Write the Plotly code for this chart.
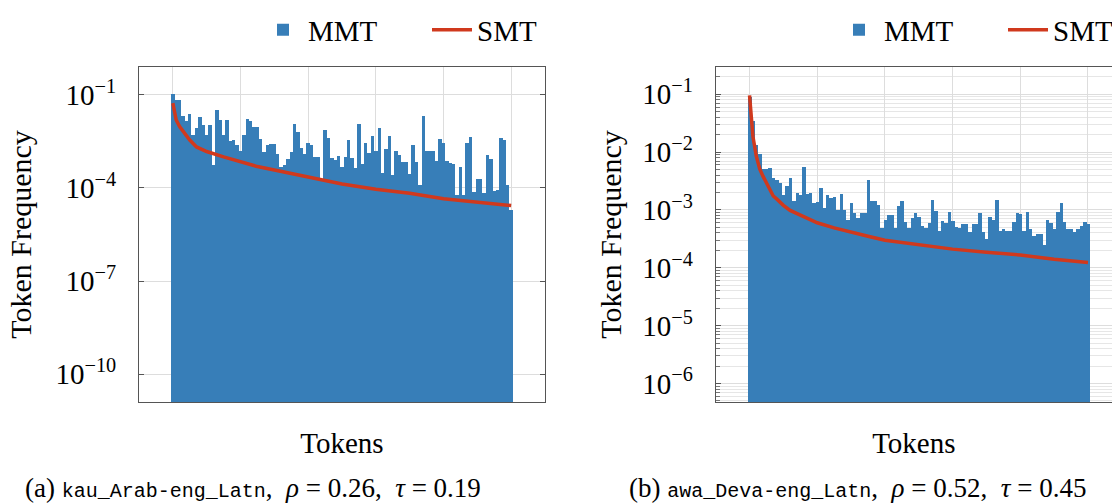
import plotly.graph_objects as go
from plotly.subplots import make_subplots

# token ranks (x) shared by both panels
tokens = list(range(101))

# (a) kau_Arab-eng_Latn
mmt_kau = [1.07e-1, 6.8e-2, 6.8e-2, 2.1e-2, 1.4e-2, 2.5e-2, 5.1e-3, 8.5e-3, 2.0e-2, 1.07e-2,
           5.1e-3, 1.07e-2, 5.5e-4, 3.2e-2, 1.55e-2, 5.1e-3, 1.6e-2, 3.2e-3, 3.5e-3, 2.5e-3,
           1.5e-3, 5.1e-3, 1.7e-2, 1.4e-2, 9.5e-3, 9.1e-3, 3.7e-3, 1.4e-3, 2.5e-3, 2.6e-3,
           2.6e-3, 1.26e-3, 4.9e-4, 5.5e-4, 8.7e-4, 1.4e-3, 1.15e-2, 6.6e-3, 1.9e-3, 1.26e-3,
           2.75e-3, 2.5e-3, 1.0e-3, 1.0e-3, 2.0e-4, 7.4e-3, 4.0e-3, 9.1e-4, 7.9e-4, 1.07e-3,
           4.9e-4, 1.0e-3, 3.5e-3, 9.5e-4, 4.3e-4, 1.15e-2, 5.9e-4, 2.75e-3, 1.3e-3, 4.6e-3,
           1.5e-3, 8.3e-3, 3.0e-4, 1.8e-3, 4.8e-3, 2.6e-4, 1.6e-3, 1.15e-3, 7.1e-4, 6.8e-4,
           2.75e-4, 2.5e-3, 7.1e-4, 1.26e-4, 2.1e-2, 1.55e-3, 1.5e-3, 1.5e-3, 7.4e-4, 3.8e-3,
           2.75e-3, 7.4e-4, 6.3e-4, 5.9e-4, 6.0e-5, 4.9e-4, 6.0e-5, 2.75e-3, 4.3e-3, 7.6e-5,
           1.95e-4, 1.95e-4, 6.8e-5, 1.15e-3, 8.7e-4, 7.9e-5, 8.7e-5, 4.0e-3, 3.5e-3, 1.26e-4,
           1.95e-5]
smt_kau_x = [0, 1, 2, 3, 5, 7, 10, 15, 20, 25, 30, 40, 50, 60, 70, 80, 88, 100]
smt_kau = [5.4e-2, 1.55e-2, 9.5e-3, 6.6e-3, 3.5e-3, 2.1e-3, 1.5e-3, 1.0e-3, 7.1e-4, 4.9e-4,
           3.8e-4, 2.3e-4, 1.35e-4, 9.1e-5, 6.8e-5, 4.5e-5, 3.6e-5, 2.7e-5]

# (b) awa_Deva-eng_Latn
mmt_awa = [8.9e-2, 3.4e-2, 1.35e-2, 9.1e-3, 5.1e-3, 5.1e-3, 5.2e-3, 3.6e-3, 3.3e-3, 2.95e-3,
           1.8e-3, 2.6e-3, 3.5e-3, 1.4e-3, 1.95e-3, 1.8e-3, 5.5e-3, 1.9e-3, 1.95e-3, 1.3e-3,
           1.35e-3, 2.4e-3, 1.07e-3, 1.8e-3, 1.6e-3, 1.7e-3, 9.8e-4, 1.9e-3, 9.8e-4, 6.8e-4,
           1.3e-3, 8.9e-4, 7.2e-4, 8.9e-4, 8.9e-4, 3.3e-3, 1.4e-3, 1.4e-3, 1.23e-3, 4.9e-4,
           6.6e-4, 8.3e-4, 8.3e-4, 4.9e-4, 1.17e-3, 1.4e-3, 6.3e-4, 4.8e-4, 7.2e-4, 8.9e-4,
           7.4e-4, 5.2e-4, 4.9e-4, 5.9e-4, 1.5e-3, 9.5e-4, 4.3e-4, 6.5e-4, 5.9e-4, 9.1e-4,
           6.5e-4, 5.0e-4, 4.9e-4, 5.8e-4, 5.8e-4, 4.2e-4, 5.8e-4, 5.8e-4, 8.9e-4, 4.2e-4,
           3.1e-4, 7.4e-4, 6.8e-4, 1.5e-3, 4.3e-4, 4.6e-4, 4.3e-4, 4.3e-4, 6.3e-4, 8.9e-4,
           8.5e-4, 4.3e-4, 9.1e-4, 4.6e-4, 3.5e-4, 3.9e-4, 3.9e-4, 2.5e-4, 6.8e-4, 5.9e-4,
           4.6e-4, 9.1e-4, 1.3e-3, 6.3e-4, 4.7e-4, 4.7e-4, 4.2e-4, 4.7e-4, 5.2e-4, 6.2e-4,
           5.6e-4]
smt_awa_x = [0, 1, 2, 3, 4, 5, 6, 7, 8, 10, 12, 15, 18, 20, 25, 30, 35, 40, 50, 60, 70, 80, 90, 100]
smt_awa = [9.5e-2, 1.86e-2, 8.5e-3, 5.1e-3, 3.8e-3, 2.95e-3, 2.3e-3, 1.74e-3, 1.55e-3, 1.2e-3,
           9.8e-4, 8.1e-4, 6.6e-4, 6.0e-4, 4.9e-4, 4.1e-4, 3.5e-4, 3.0e-4, 2.5e-4, 2.1e-4,
           1.86e-4, 1.66e-4, 1.4e-4, 1.23e-4]

# y tick labels
kau_ticks = [1e-10, 1e-7, 1e-4, 1e-1]
kau_ticktext = ["10<sup>\u221210</sup>", "10<sup>\u22127</sup>", "10<sup>\u22124</sup>", "10<sup>\u22121</sup>"]
awa_ticks = [1e-6, 1e-5, 1e-4, 1e-3, 1e-2, 1e-1]
awa_ticktext = ["10<sup>\u22126</sup>", "10<sup>\u22125</sup>", "10<sup>\u22124</sup>",
                "10<sup>\u22123</sup>", "10<sup>\u22122</sup>", "10<sup>\u22121</sup>"]

MONO = "<span style='font-family:Liberation Mono;font-size:20px'>{}</span>"
captions = ["(a) " + MONO.format("kau_Arab-eng_Latn") + ",  <i>\u03c1</i> = 0.26,  <i>\u03c4</i> = 0.19",
            "(b) " + MONO.format("awa_Deva-eng_Latn") + ",  <i>\u03c1</i> = 0.52,  <i>\u03c4</i> = 0.45"]

BLUE = "#377eb8"
RED = "#d0391d"
FONT = "Liberation Serif, Times New Roman, serif"
W, H = 1112, 504

fig = make_subplots(rows=1, cols=2)

fig.add_trace(go.Bar(x=tokens, y=mmt_kau, name="MMT", marker=dict(color=BLUE, line=dict(width=0)),
                     width=1.0, legend="legend"), row=1, col=1)
fig.add_trace(go.Scatter(x=smt_kau_x, y=smt_kau, name="SMT", mode="lines",
                         line=dict(color=RED, width=3.5), legend="legend2"), row=1, col=1)
fig.add_trace(go.Bar(x=tokens, y=mmt_awa, name="MMT", marker=dict(color=BLUE, line=dict(width=0)),
                     width=1.0, legend="legend3"), row=1, col=2)
fig.add_trace(go.Scatter(x=smt_awa_x, y=smt_awa, name="SMT", mode="lines",
                         line=dict(color=RED, width=3.5), legend="legend4"), row=1, col=2)

legend_style = dict(orientation="h", xanchor="left", yanchor="middle", y=1 - 30 / H,
                    font=dict(size=29, family=FONT), bgcolor="rgba(0,0,0,0)",
                    borderwidth=0, itemwidth=40)

ydom = [1 - 402 / H, 1 - 67 / H]
fig.update_layout(
    width=W, height=H,
    showlegend=True,
    margin=dict(l=0, r=0, t=0, b=0, autoexpand=False),
    plot_bgcolor="white", paper_bgcolor="white",
    font=dict(family=FONT, size=29, color="black"),
    bargap=0,
    xaxis=dict(domain=[139 / W, 545 / W], range=[-10, 110]),
    xaxis2=dict(domain=[715.7 / W, 1.0], range=[-10, 107.1]),
    yaxis=dict(domain=ydom, range=[-10.9, -0.1], tickvals=kau_ticks, ticktext=kau_ticktext,
               mirror="ticks", title=dict(standoff=14)),
    yaxis2=dict(domain=ydom, range=[-6.32, -0.53], tickvals=awa_ticks, ticktext=awa_ticktext,
                mirror=False, title=dict(standoff=11),
                minor=dict(dtick="D1", showgrid=True, gridcolor="#e6e6e6", gridwidth=1,
                           ticks="inside", ticklen=4, tickcolor="#777777")),
    legend=dict(x=258 / W, **legend_style),
    legend2=dict(x=427 / W, **legend_style),
    legend3=dict(x=834 / W, **legend_style),
    legend4=dict(x=1003 / W, **legend_style),
)

fig.update_xaxes(showticklabels=False, ticks="", tickvals=[0, 20, 40, 60, 80, 100],
                 showgrid=True, gridcolor="#dddddd", gridwidth=1, zeroline=False,
                 showline=True, linecolor="#555555", linewidth=1, mirror=True, automargin=False,
                 title=dict(text="Tokens", standoff=30, font=dict(size=29)))
fig.update_yaxes(type="log", showgrid=True, gridcolor="#dddddd", gridwidth=1, zeroline=False,
                 showline=True, linecolor="#555555", linewidth=1, automargin=False,
                 ticks="inside", ticklen=5, tickcolor="#555555", ticklabelstandoff=16,
                 tickfont=dict(size=29),
                 title=dict(text="Token Frequency", font=dict(size=30)))

for i, cap in enumerate(captions):
    fig.add_annotation(text=cap, x=[253 / W, 857 / W][i], y=1 - 488 / H,
                       xref="paper", yref="paper", xanchor="center", yanchor="middle",
                       showarrow=False, font=dict(size=27, family=FONT))

# the page is photographed at the window's top-left corner, so drop the body margin
fig.write_html("out.html", config={"displayModeBar": False},
               post_script="document.body.style.margin = '0';")
